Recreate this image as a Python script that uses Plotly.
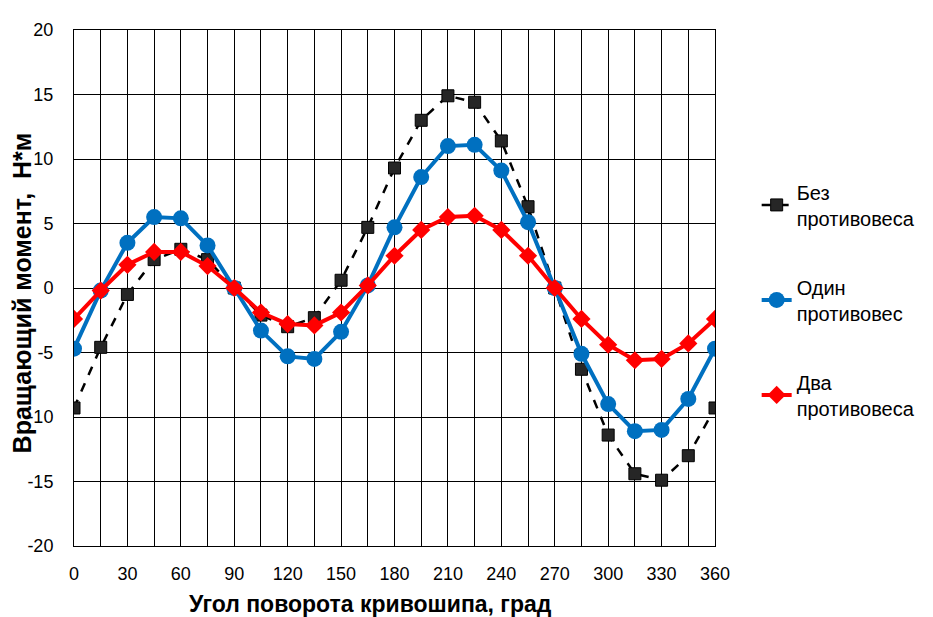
import plotly.graph_objects as go

angles = list(range(0, 361, 15))
bez = [-9.3, -4.6, -0.5, 2.2, 3.0, 2.2, 0.0, -2.1, -3.0, -2.3, 0.6, 4.7, 9.3,
       13.0, 14.9, 14.4, 11.4, 6.3, 0.0, -6.3, -11.4, -14.4, -14.9, -13.0, -9.3]
odin = [-4.7, -0.2, 3.5, 5.5, 5.4, 3.3, 0.0, -3.3, -5.3, -5.5, -3.4, 0.2, 4.7,
        8.6, 11.0, 11.1, 9.1, 5.1, 0.0, -5.1, -9.0, -11.1, -11.0, -8.6, -4.7]
dva = [-2.4, -0.2, 1.8, 2.8, 2.8, 1.7, 0.0, -1.9, -2.8, -2.9, -1.9, 0.2, 2.5,
       4.5, 5.5, 5.6, 4.5, 2.5, 0.0, -2.4, -4.4, -5.6, -5.5, -4.3, -2.4]

names = ["Без<br>противовеса", "Один<br>противовес", "Два<br>противовеса"]
x_ticks = list(range(0, 361, 30))
y_ticks = list(range(-20, 21, 5))
y_labels = [str(v) for v in y_ticks]  # plain hyphen minus as in reference

FONT = "Liberation Sans, Arial, sans-serif"

fig = go.Figure()
fig.add_trace(go.Scatter(
    x=angles, y=bez, name=names[0], legendgroup="a", mode="lines+markers",
    line=dict(color="black", width=2.5, dash="dash"),
    marker=dict(symbol="square", size=12, color="#262626",
                line=dict(color="black", width=1))))
fig.add_trace(go.Scatter(
    x=angles, y=odin, name=names[1], legendgroup="b", mode="lines+markers",
    line=dict(color="#0070C0", width=4),
    marker=dict(symbol="circle", size=16, color="#0070C0")))
fig.add_trace(go.Scatter(
    x=angles, y=dva, name=names[2], legendgroup="c", mode="lines+markers",
    line=dict(color="#FF0000", width=4),
    marker=dict(symbol="diamond", size=14, color="#FF0000")))

# page body has an 8px margin; compensate so the plot area sits where the reference has it
fig.update_layout(
    width=925, height=609,
    margin=dict(l=66, r=218, t=13, b=71),
    paper_bgcolor="white", plot_bgcolor="white",
    font=dict(family=FONT, color="black", size=18),
    showlegend=True,
    legend=dict(x=1.065, y=0.724, xanchor="left", yanchor="top",
                font=dict(family=FONT, size=20, color="black"),
                tracegroupgap=40, bgcolor="rgba(0,0,0,0)"),
    xaxis=dict(range=[0, 360], tickvals=x_ticks, ticktext=[str(v) for v in x_ticks],
               showgrid=True, gridcolor="black", gridwidth=1,
               minor=dict(dtick=15, tick0=0, showgrid=True, gridcolor="black", gridwidth=1),
               showline=True, linecolor="black", linewidth=1, mirror=True,
               ticks="", ticklabelstandoff=11, zeroline=False,
               tickfont=dict(size=18)),
    yaxis=dict(range=[-20, 20], tickvals=y_ticks, ticktext=y_labels,
               showgrid=True, gridcolor="black", gridwidth=1,
               showline=True, linecolor="black", linewidth=1, mirror=True,
               ticks="", ticklabelstandoff=16, zeroline=False,
               tickfont=dict(size=18)),
    annotations=[
        dict(text="<b>Угол поворота кривошипа, град</b>", xref="paper", yref="paper",
             x=(370 - 74) / 641, y=-(605 - 546) / 525, xanchor="center", yanchor="middle",
             showarrow=False, font=dict(size=23, family=FONT)),
        dict(text="<b>Вращающий момент,  Н*м</b>", xref="paper", yref="paper",
             x=-(74 - 22) / 641, y=(546 - 289) / 525, xanchor="center", yanchor="middle",
             textangle=-90, showarrow=False, font=dict(size=25, family=FONT)),
    ],
)

fig.write_html("out.html")
